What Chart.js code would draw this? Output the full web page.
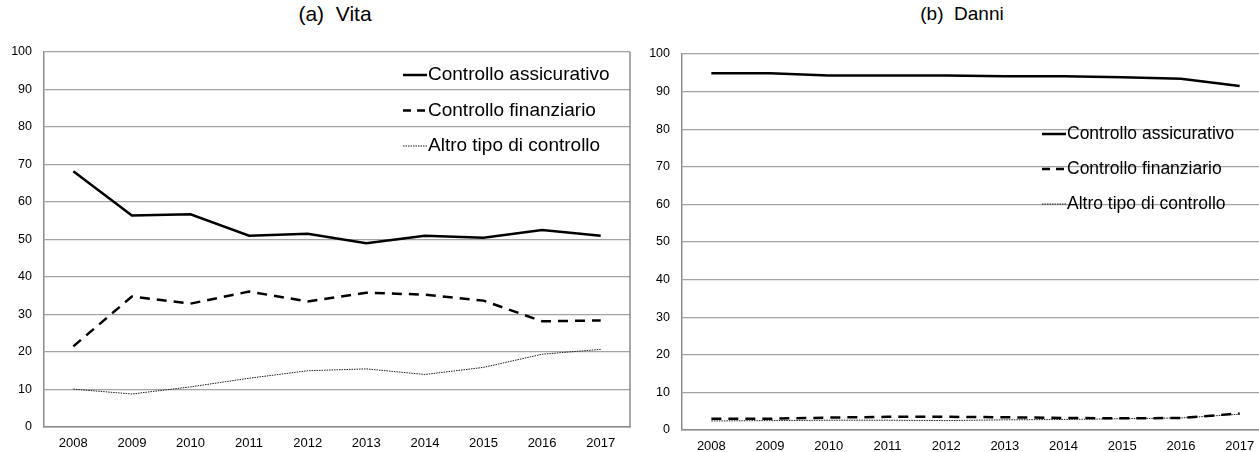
<!DOCTYPE html>
<html>
<head>
<meta charset="utf-8">
<script src="https://cdn.jsdelivr.net/npm/chart.js@4/dist/chart.umd.min.js"></script>
<style>
  html, body { margin: 0; padding: 0; background: #fff; overflow: hidden; }
  body { width: 1259px; height: 452px; position: relative; font-family: "Liberation Sans", Arial, sans-serif; }
  .panel { position: absolute; top: 0; }
  .title { position: absolute; color: #000; white-space: pre; transform: translateX(-50%); line-height: 1; }
</style>
</head>
<body>
<div class="title" style="left:335px; top:3px; font-size:21px">(a)  Vita</div>
<div class="title" style="left:962px; top:4px; font-size:19px">(b)  Danni</div>
<div class="panel" style="left:0"><canvas id="vita" width="640" height="452"></canvas></div>
<div class="panel" style="left:640px"><canvas id="danni" width="640" height="452"></canvas></div>
<script>
const years = ['2008', '2009', '2010', '2011', '2012', '2013', '2014', '2015', '2016', '2017'];
const seriesNames = ['Controllo assicurativo', 'Controllo finanziario', 'Altro tipo di controllo'];

// (a) Vita
const vitaAssicurativo = [68.2, 56.4, 56.7, 51.0, 51.5, 49.0, 51.0, 50.5, 52.5, 51.0];
const vitaFinanziario = [21.5, 34.8, 32.9, 36.1, 33.5, 35.8, 35.3, 33.7, 28.2, 28.4];
const vitaAltro = [10.1, 8.8, 10.7, 13.0, 15.0, 15.5, 14.0, 15.9, 19.4, 20.7];

// (b) Danni
const danniAssicurativo = [94.9, 94.9, 94.3, 94.3, 94.3, 94.1, 94.1, 93.8, 93.4, 91.5];
const danniFinanziario = [3.0, 3.0, 3.3, 3.5, 3.5, 3.4, 3.2, 3.1, 3.2, 4.4];
const danniAltro = [2.4, 2.5, 2.6, 2.6, 2.5, 2.7, 2.8, 3.0, 3.2, 4.2];

const yTicks = [0, 10, 20, 30, 40, 50, 60, 70, 80, 90, 100];

const FONT = '"Liberation Sans", Arial, sans-serif';

function makeDatasets(a, f, o) {
    return [
        { label: seriesNames[0], data: a, borderColor: '#000', borderWidth: 2.5, pointRadius: 0, tension: 0 },
        { label: seriesNames[1], data: f, borderColor: '#000', borderWidth: 2.5, borderDash: [10, 7], pointRadius: 0, tension: 0 },
        { label: seriesNames[2], data: o, borderColor: '#1a1a1a', borderWidth: 1, borderDash: [1.5, 1], pointRadius: 0, tension: 0 }
    ];
}

// legend drawn inside the plot area, plus the right-hand frame line
const insideLegend = {
    id: 'insideLegend',
    afterDatasetsDraw(chart, args, opts) {
        const ctx = chart.ctx;
        const area = chart.chartArea;
        ctx.save();
        ctx.strokeStyle = '#8c8c8c';
        ctx.lineWidth = 1.5;
        ctx.beginPath();
        ctx.moveTo(area.right, area.top);
        ctx.lineTo(area.right, area.bottom);
        ctx.stroke();

        ctx.font = opts.size + 'px ' + FONT;
        ctx.textBaseline = 'middle';
        chart.data.datasets.forEach((ds, i) => {
            const y = opts.y + i * opts.step;
            ctx.beginPath();
            ctx.setLineDash(i === 1 ? [8, 6] : (ds.borderDash || []));
            ctx.lineWidth = ds.borderWidth;
            ctx.strokeStyle = ds.borderColor;
            ctx.moveTo(opts.x, y);
            ctx.lineTo(opts.x + opts.len, y);
            ctx.stroke();
            ctx.setLineDash([]);
            ctx.fillStyle = '#000';
            ctx.fillText(ds.label, opts.x + opts.len + 1, y);
        });
        ctx.restore();
    }
};

function makeChart(id, datasets, cfg) {
    return new Chart(document.getElementById(id), {
        type: 'line',
        data: { labels: years, datasets: datasets },
        plugins: [insideLegend],
        options: {
            responsive: false,
            animation: false,
            layout: { padding: { top: cfg.top, right: cfg.right, left: 0, bottom: 0 } },
            plugins: {
                legend: { display: false },
                tooltip: { enabled: false },
                insideLegend: cfg.legend
            },
            scales: {
                x: {
                    offset: true,
                    grid: { display: false, drawTicks: false },
                    border: { display: true, color: '#8c8c8c', width: 1.5 },
                    ticks: { color: '#000', padding: 9, maxRotation: 0, font: { family: FONT, size: 13 } },
                    afterFit: axis => { axis.height = cfg.xHeight; }
                },
                y: {
                    min: 0,
                    max: 100,
                    afterBuildTicks: axis => { axis.ticks = yTicks.map(v => ({ value: v })); },
                    grid: { color: '#a3a3a3', lineWidth: 1.2, drawTicks: false },
                    border: { display: true, color: '#8c8c8c', width: 1.5 },
                    ticks: { color: '#000', padding: 12, font: { family: FONT, size: 12.5 } },
                    afterFit: axis => { axis.width = cfg.yWidth; }
                }
            }
        }
    });
}

makeChart('vita', makeDatasets(vitaAssicurativo, vitaFinanziario, vitaAltro), {
    top: 52, right: 10, xHeight: 25, yWidth: 44,
    legend: { x: 403, y: 75, step: 35.5, len: 24, size: 19 }
});

makeChart('danni', makeDatasets(danniAssicurativo, danniFinanziario, danniAltro), {
    top: 54, right: 11, xHeight: 22, yWidth: 42,
    legend: { x: 402, y: 134, step: 35, len: 24, size: 17.5 }
});
</script>
</body>
</html>
